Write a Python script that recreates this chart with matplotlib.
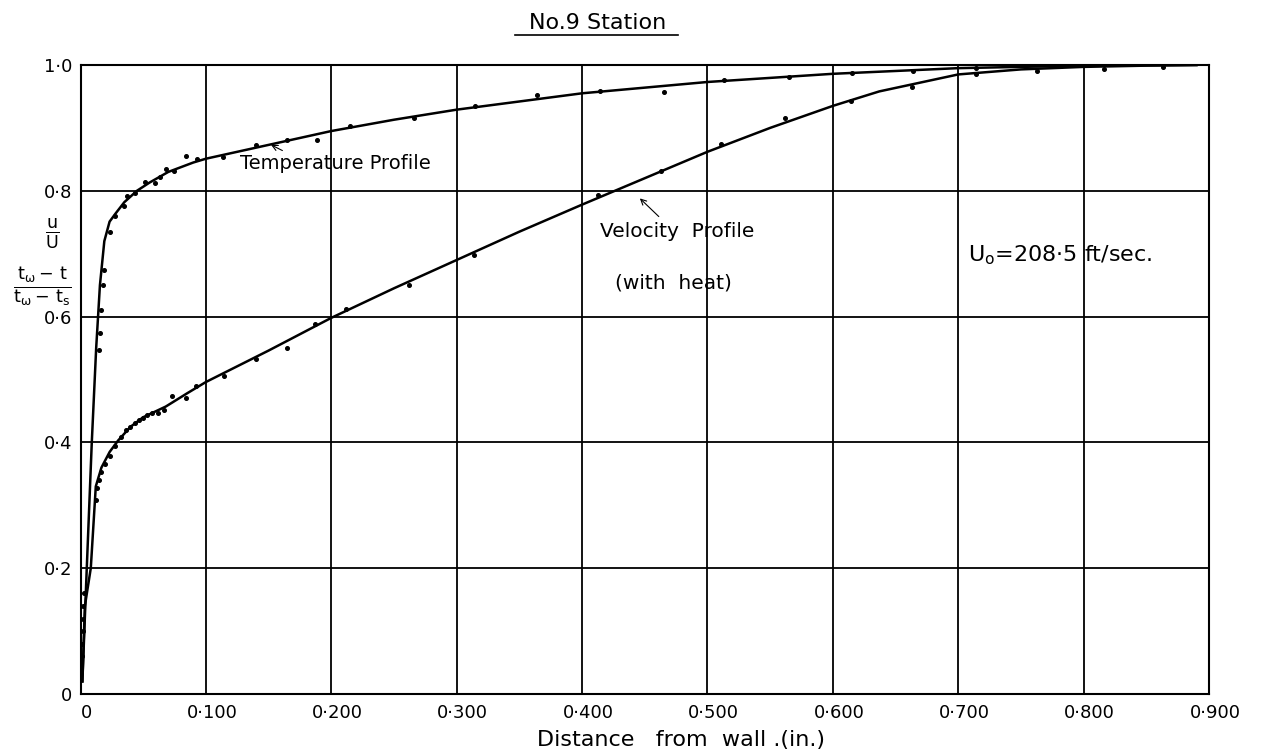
import numpy as np
import matplotlib.pyplot as plt
import matplotlib.transforms as mtransforms
from matplotlib.lines import Line2D

temp_x = [0.0150, 0.0158, 0.0166, 0.0177, 0.0190, 0.0232, 0.0277, 0.0343, 0.0369,
          0.0435, 0.0515, 0.0594, 0.0633, 0.0678, 0.0744, 0.0839, 0.0931, 0.114,
          0.140, 0.165, 0.189, 0.215, 0.266, 0.315, 0.364, 0.414, 0.465, 0.513,
          0.565, 0.615, 0.664, 0.714]
temp_y = [0.547, 0.574, 0.610, 0.650, 0.674, 0.735, 0.760, 0.776, 0.791,
          0.797, 0.814, 0.812, 0.822, 0.835, 0.831, 0.856, 0.850, 0.854,
          0.873, 0.880, 0.880, 0.903, 0.916, 0.935, 0.952, 0.959, 0.957, 0.976,
          0.981, 0.988, 0.991, 0.996]

vel_x = [0.0012, 0.0015, 0.0018, 0.0020, 0.0022, 0.0025,
         0.0122, 0.0133, 0.0149, 0.0167, 0.0194, 0.0233, 0.0273, 0.0326, 0.0361,
         0.0393, 0.0432, 0.0467, 0.0499, 0.0533, 0.0573, 0.0618, 0.0663, 0.0726,
         0.0839, 0.0923, 0.1148, 0.1398, 0.165, 0.187, 0.212, 0.262, 0.3138,
         0.413, 0.463, 0.511, 0.562, 0.6146, 0.663, 0.714, 0.763, 0.816, 0.863]
vel_y = [0.060, 0.080, 0.100, 0.120, 0.140, 0.160,
         0.308, 0.328, 0.340, 0.353, 0.366, 0.379, 0.395, 0.408, 0.419,
         0.424, 0.431, 0.435, 0.439, 0.443, 0.446, 0.447, 0.452, 0.474,
         0.470, 0.489, 0.506, 0.532, 0.550, 0.588, 0.612, 0.650, 0.698,
         0.793, 0.832, 0.875, 0.915, 0.943, 0.965, 0.986, 0.990, 0.993, 0.997]

# faired curves drawn through the points (nodes)
temp_cx = [0.0015, 0.005, 0.009, 0.0125, 0.0155, 0.019, 0.0232, 0.028, 0.035,
           0.045, 0.055, 0.07, 0.09, 0.10, 0.15, 0.20, 0.25, 0.30, 0.40, 0.50,
           0.60, 0.70, 0.80, 0.89]
temp_cy = [0.02, 0.20, 0.40, 0.55, 0.65, 0.72, 0.751, 0.764, 0.782,
           0.800, 0.813, 0.830, 0.845, 0.851, 0.873, 0.895, 0.913, 0.929, 0.955, 0.973,
           0.986, 0.995, 0.999, 1.0]

vel_cx = [0.0015, 0.0035, 0.0082, 0.0122, 0.0167, 0.0233, 0.030, 0.040, 0.050,
          0.068, 0.085, 0.10, 0.15, 0.20, 0.25, 0.30, 0.35, 0.40, 0.45, 0.50,
          0.55, 0.60, 0.637, 0.70, 0.75, 0.80, 0.85, 0.89]
vel_cy = [0.02, 0.14, 0.20, 0.33, 0.36, 0.385, 0.403, 0.425, 0.440,
          0.457, 0.478, 0.496, 0.546, 0.598, 0.645, 0.690, 0.735, 0.778, 0.820, 0.862,
          0.900, 0.935, 0.958, 0.985, 0.993, 0.997, 0.999, 1.0]

xticks = np.arange(0, 0.91, 0.1)
xlabels = ['0', '0·100', '0·200', '0·300', '0·400', '0·500', '0·600', '0·700', '0·800', '0·900']
yticks = [0, 0.2, 0.4, 0.6, 0.8, 1.0]
ylabels = ['0', '0·2', '0·4', '0·6', '0·8', '1·0']

fig = plt.figure(figsize=(12.76, 7.55), dpi=100)
ax = fig.add_axes([80.5 / 1276, 1 - 694 / 755, (1209 - 80.5) / 1276, (694 - 65) / 755])

ax.plot(temp_cx, temp_cy, color='black', lw=1.8, zorder=3)
ax.plot(vel_cx, vel_cy, color='black', lw=1.8, zorder=3)
ax.plot(temp_x, temp_y, 'o', color='black', ms=2.6, zorder=4)
ax.plot(vel_x, vel_y, 'o', color='black', ms=2.6, zorder=4)

ax.set_xlim(0, 0.9)
ax.set_ylim(0, 1.0)
ax.set_xticks(xticks)
ax.set_xticklabels(xlabels, fontsize=13)
ax.set_yticks(yticks)
ax.set_yticklabels(ylabels, fontsize=13)
ax.tick_params(length=0)
ax.tick_params(axis='x', pad=7)
ax.tick_params(axis='y', pad=6)
offset = mtransforms.ScaledTranslation(0.06, 0, fig.dpi_scale_trans)
for lab in ax.get_xticklabels():
    lab.set_transform(lab.get_transform() + offset)
ax.grid(True, color='black', lw=1.3)
ax.set_axisbelow(True)
for s in ax.spines.values():
    s.set_linewidth(1.5)

ax.set_xlabel('Distance   from  wall .(in.)', fontsize=16, va='center')
ax.xaxis.set_label_coords(0.532, -0.073)

# title with underline
fig.text(0.468, 0.9695, 'No.9 Station', fontsize=16, ha='center', va='center')
fig.add_artist(Line2D([0.4036, 0.5313], [0.9536, 0.9536], color='black', lw=1.2))

# y axis labels
fig.text(0.0408, 0.690, r'$\frac{\mathrm{u}}{\mathrm{U}}$', fontsize=18, ha='center', va='center')
fig.text(0.033, 0.620, r'$\frac{\mathrm{t_{\omega} -\, t}}{\mathrm{t_{\omega} -\, t_s}}$',
         fontsize=18, ha='center', va='center')

# annotations
ax.annotate('', xy=(0.150, 0.875), xytext=(0.163, 0.862),
            arrowprops=dict(arrowstyle='->', color='black', lw=0.8))
ax.text(0.127, 0.844, 'Temperature Profile', fontsize=14, va='center')
ax.annotate('', xy=(0.4445, 0.791), xytext=(0.4628, 0.756),
            arrowprops=dict(arrowstyle='->', color='black', lw=0.8))
ax.text(0.414, 0.735, 'Velocity  Profile', fontsize=14.5, va='center')
ax.text(0.426, 0.653, '(with  heat)', fontsize=14.5, va='center')
ax.text(0.708, 0.697, r'U$_\mathsf{o}$=208·5 ft/sec.', fontsize=16, va='center')

fig.savefig('out.png', dpi=100)
